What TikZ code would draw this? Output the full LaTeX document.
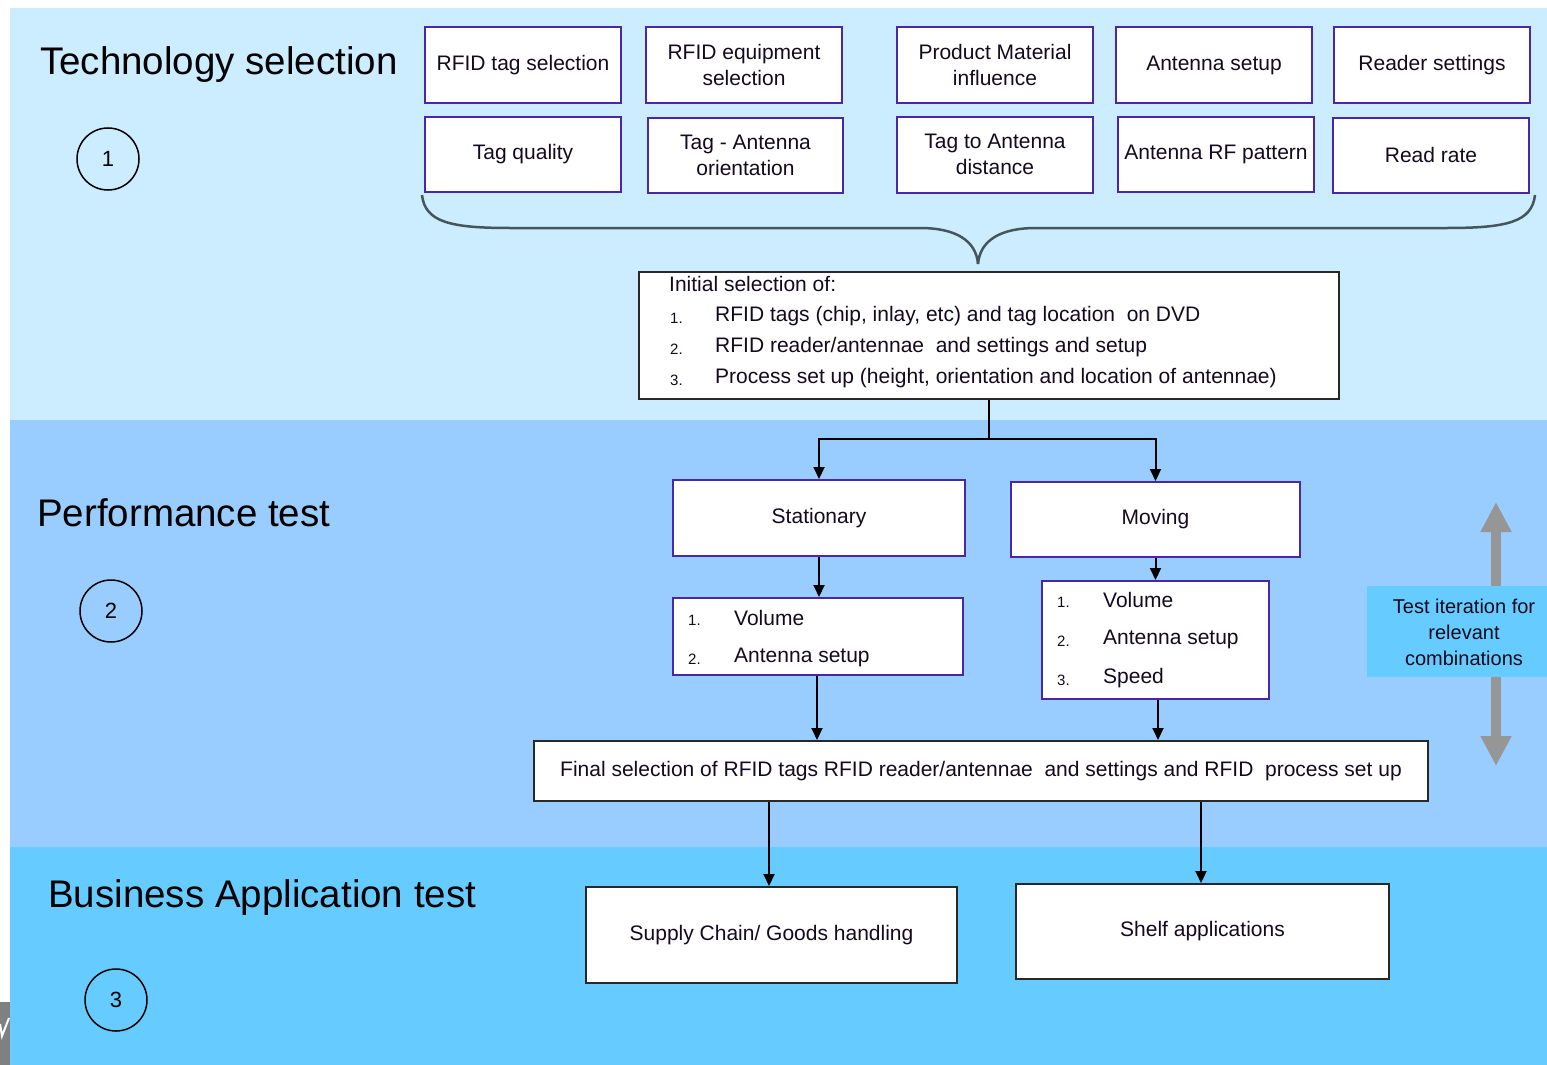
\documentclass[tikz,border=0pt]{standalone}
\usepackage{fontspec}
\setmainfont{Liberation Sans}
\usetikzlibrary{arrows.meta}
\definecolor{bandA}{RGB}{204,236,255}
\definecolor{bandB}{RGB}{153,204,255}
\definecolor{bandC}{RGB}{102,204,255}
\definecolor{iterfill}{RGB}{102,204,255}
\definecolor{boxline}{RGB}{72,40,168}
\definecolor{darkline}{RGB}{40,40,40}
\definecolor{braceline}{RGB}{70,85,92}
\definecolor{txt}{RGB}{20,10,30}
\definecolor{greyarrow}{RGB}{150,150,150}
\tikzset{
  tbox/.style={draw=boxline, line width=2pt, fill=white, inner sep=0pt, align=center,
    font=\fontsize{21}{26}\selectfont, text=txt},
  kbox/.style={draw=darkline, line width=2pt, fill=white, inner sep=0pt, align=center,
    font=\fontsize{21}{26}\selectfont, text=txt},
  title/.style={anchor=west, inner sep=0pt, font=\fontsize{38.5}{44}\selectfont, text=black},
  numcirc/.style={draw=black, line width=1.5pt, circle, minimum size=62pt, inner sep=0pt,
    font=\fontsize{22}{26}\selectfont},
  ltext/.style={anchor=west, inner sep=0pt, font=\fontsize{21}{26}\selectfont, text=txt},
  lnum/.style={anchor=west, inner sep=0pt, font=\fontsize{15}{18}\selectfont, text=txt},
  arr/.style={draw=black, line width=2pt, -{Triangle[length=12pt,width=11pt]}},
  conn/.style={draw=black, line width=2pt},
}
\begin{document}
\begin{tikzpicture}[x=1pt,y=-1pt]
\useasboundingbox (0,0) rectangle (1547,1065);
% backgrounds
\fill[white] (0,0) rectangle (1547,1065);
\fill[bandA] (10,8) rectangle (1547,420);
\fill[bandB] (10,420) rectangle (1547,847);
\fill[bandC] (10,847) rectangle (1547,1065);
\fill[gray] (0,1002) rectangle (10,1065);
\draw[white, line width=2pt] (0,1024) -- (2,1036) -- (9,1018);

% titles and step numbers
\node[title] (t1) at (40,65) {Technology selection};
\node[title] (t2) at (37,513) {Performance test};
\node[title] (t3) at (48,898) {Business Application test};
\node[numcirc] (c1) at (108,159) {1};
\node[numcirc] (c2) at (111,611) {2};
\node[numcirc] (c3) at (116,1000) {3};

% top row boxes
\node[tbox, minimum width=196pt, minimum height=76pt] (a1) at (523,65) {RFID tag selection};
\node[tbox, minimum width=196pt, minimum height=76pt] (a2) at (744,65) {RFID equipment\\selection};
\node[tbox, minimum width=196pt, minimum height=76pt] (a3) at (995,65) {Product Material\\influence};
\node[tbox, minimum width=196pt, minimum height=76pt] (a4) at (1214,65) {Antenna setup};
\node[tbox, minimum width=196pt, minimum height=76pt] (a5) at (1432,65) {Reader settings};
\node[tbox, minimum width=196pt, minimum height=75pt] (b1) at (523,154.5) {Tag quality};
\node[tbox, minimum width=195pt, minimum height=75pt] (b2) at (745.5,155) {Tag - Antenna\\orientation};
\node[tbox, minimum width=196pt, minimum height=76pt] (b3) at (995,154.5) {Tag to Antenna\\distance};
\node[tbox, minimum width=196pt, minimum height=75pt] (b4) at (1216,154.5) {Antenna RF pattern};
\node[tbox, minimum width=196pt, minimum height=75pt] (b5) at (1431,155) {Read rate};

% brace
\coordinate (brl) at (422,195);
\coordinate (brr) at (1535,195);
\coordinate (brtip) at (978,264);
\draw[braceline, line width=2.5pt] (brl) .. controls (425,222) and (450,228) .. (510,228)
  -- (920,228) .. controls (955,228) and (976,240) .. (brtip);
\draw[braceline, line width=2.5pt] (brr) .. controls (1532,222) and (1507,228) .. (1447,228)
  -- (1036,228) .. controls (1001,228) and (980,240) .. (brtip);

% initial selection box
\node[kbox, minimum width=700pt, minimum height=127pt] (init) at (989,335.5) {};
\node[ltext] (i0) at (669,284) {Initial selection of:};
\node[lnum] (n1) at (670,318) {1.};
\node[ltext] (i1) at (715,316) {RFID tags (chip, inlay, etc) and tag location\ \ on DVD};
\node[lnum] (n2) at (670,349) {2.};
\node[ltext] (i2) at (715,347) {RFID reader/antennae\ \ and settings and setup};
\node[lnum] (n3) at (670,380) {3.};
\node[ltext] (i3) at (715,378) {Process set up (height, orientation and location of antennae)};

% performance boxes
\node[kbox, draw=boxline, minimum width=292pt, minimum height=76pt] (stat) at (819,518) {Stationary};
\node[kbox, draw=boxline, minimum width=289pt, minimum height=75pt] (mov) at (1155.5,519.5) {Moving};
\node[kbox, draw=boxline, minimum width=290pt, minimum height=77pt] (v1) at (818,636.5) {};
\node[lnum] (v1n1) at (688,620) {1.};
\node[ltext] (v1t1) at (734,618) {Volume};
\node[lnum] (v1n2) at (688,659) {2.};
\node[ltext] (v1t2) at (734,657) {Antenna setup};
\node[kbox, draw=boxline, minimum width=227pt, minimum height=118pt] (v2) at (1155.5,640) {};
\node[lnum] (v2n1) at (1057,602) {1.};
\node[ltext] (v2t1) at (1103,600) {Volume};
\node[lnum] (v2n2) at (1057,641) {2.};
\node[ltext] (v2t2) at (1103,639) {Antenna setup};
\node[lnum] (v2n3) at (1057,680) {3.};
\node[ltext] (v2t3) at (1103,678) {Speed};

\node[kbox, minimum width=894pt, minimum height=60pt] (final) at (981,771) {Final selection of RFID tags RFID reader/antennae\ \ and settings and RFID\ \ process set up};

% business boxes
\node[kbox, minimum width=371pt, minimum height=96pt] (sc) at (771.5,935) {Supply Chain/ Goods handling};
\node[kbox, minimum width=373pt, minimum height=95pt] (shelf) at (1202.5,931.5) {Shelf applications};

% iteration arrow and box
\coordinate (itop) at (1496,502);
\coordinate (ibot) at (1496,766);
\draw[greyarrow, line width=10pt, {Triangle[length=30pt,width=29pt]}-{Triangle[length=30pt,width=29pt]}] (itop) -- (ibot);
\node[fill=iterfill, minimum width=180pt, minimum height=91pt, inner sep=0pt] (iter) at (1457,631.5) {};
\node[inner sep=0pt, align=center, font=\fontsize{20}{26}\selectfont, text=txt] (itertxt) at (1464,632) {Test iteration for\\relevant\\combinations};

% connectors
\coordinate (split) at (989,439);
\draw[conn] (init.south) -- (split);
\draw[arr] (split) -| (stat.north);
\draw[arr] (split) -| (mov.north);
\draw[arr] (stat.south) -- (v1.north -| stat.south);
\draw[arr] (mov.south) -- (v2.north -| mov.south);
\draw[arr] (817,675.5) -- (final.north -| 817,675.5);
\draw[arr] (1158,699.5) -- (final.north -| 1158,699.5);
\draw[arr] (769,801.5) -- (sc.north -| 769,801.5);
\draw[arr] (1201,801.5) -- (shelf.north -| 1201,801.5);
\end{tikzpicture}
\end{document}
